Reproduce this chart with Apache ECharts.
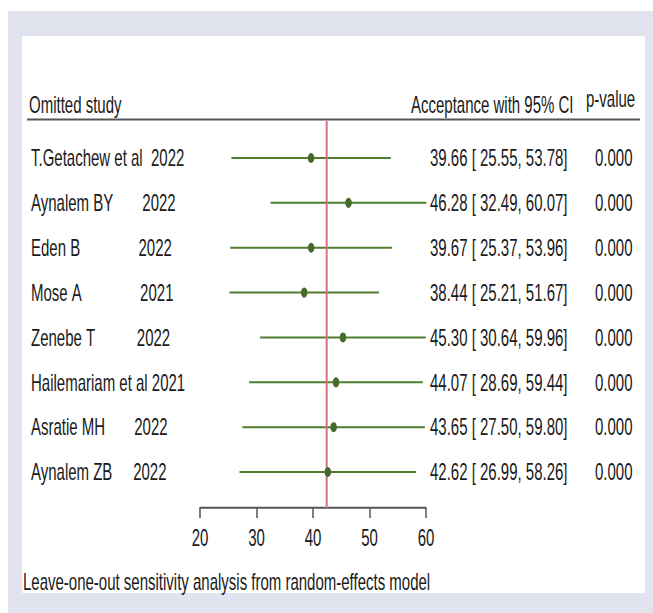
<!DOCTYPE html>
<html>
<head>
<meta charset="utf-8">
<script src="https://cdn.jsdelivr.net/npm/echarts@6/dist/echarts.min.js"></script>
<style>
  html, body { margin: 0; padding: 0; background: #fff; width: 653px; height: 613px; overflow: hidden; }
  #wrap { position: relative; width: 653px; height: 613px; overflow: visible; }
  /* the reference is a vertically stretched Stata graph, so the chart is stretched the same way */
  #main { position: absolute; left: 0; top: 0; width: 653px; transform-origin: 0 0; }
</style>
</head>
<body>
<div id="wrap"><div id="main"></div></div>
<script>
  // data
  const studies = [
    'T.Getachew et al  2022',
    'Aynalem BY       2022',
    'Eden B              2022',
    'Mose A              2021',
    'Zenebe T          2022',
    'Hailemariam et al 2021',
    'Asratie MH       2022',
    'Aynalem ZB     2022'
  ]
  const estimates = [39.66, 46.28, 39.67, 38.44, 45.30, 44.07, 43.65, 42.62]
  const lower = [25.55, 32.49, 25.37, 25.21, 30.64, 28.69, 27.50, 26.99]
  const upper = [53.78, 60.07, 53.96, 51.67, 59.96, 59.44, 59.80, 58.26]
  const pValues = ['0.000', '0.000', '0.000', '0.000', '0.000', '0.000', '0.000', '0.000']
  const pooled = 42.42 // red reference line
  const xMin = 20, xMax = 60, xStep = 10

  const K = 1.56 // vertical stretch
  const W = 653, H = 613 / K
  const FS = 15
  const FONT = '"Liberation Sans", Arial, sans-serif'
  const TXT = '#1b1b1b'

  const dom = document.getElementById('main')
  dom.style.height = H + 'px'
  dom.style.transform = 'scaleY(' + K + ')'

  const ciText = estimates.map((e, i) => e.toFixed(2) + ' [ ' + lower[i].toFixed(2) + ', ' + upper[i].toFixed(2) + ']')
  const nbsp = s => s.replace(/ /g, '\u00a0')

  const chart = echarts.init(dom, null, { renderer: 'svg' })

  const labelAxis = (data, position, margin) => ({
    type: 'category',
    gridIndex: 1,
    position: position,
    inverse: true,
    data: data,
    axisLine: { show: false },
    axisTick: { show: false },
    splitLine: { show: false },
    axisLabel: {
      align: 'left',
      margin: margin,
      fontSize: FS,
      fontFamily: FONT,
      color: TXT,
      formatter: v => nbsp(v)
    }
  })

  const text = (str, x, y) => ({
    type: 'text', silent: true, x: x, y: y / K,
    style: { text: str, fontSize: FS, fontFamily: FONT, fill: TXT, verticalAlign: 'middle' }
  })

  const option = {
    animation: false,
    graphic: [
      { type: 'rect', silent: true, shape: { x: 8, y: 11 / K, width: W - 8, height: H - 11 / K }, style: { fill: '#e1e4ef' } },
      { type: 'rect', silent: true, shape: { x: 22, y: 36 / K, width: 623, height: (593 - 36) / K }, style: { fill: '#ffffff' } },
      { type: 'line', silent: true, shape: { x1: 27, y1: 119.5 / K, x2: 640, y2: 119.5 / K }, style: { stroke: '#555555', lineWidth: 2 / K } },
      text('Omitted study', 29, 104.5),
      text('Acceptance with 95% CI', 411, 104.5),
      text('p-value', 586, 99),
      text('Leave-one-out sensitivity analysis from random-effects model', 23, 582)
    ],
    grid: [
      // plot area: from the header rule down to the axis line
      { left: 200, right: W - 426, top: 121 / K, bottom: H - 508 / K },
      // rows: 8 bands of 44.86px centred on 158 ... 472
      { left: 200, right: W - 426, top: (158 - 22.43) / K, height: 8 * 44.86 / K }
    ],
    xAxis: [
      {
        type: 'value', gridIndex: 0, min: xMin, max: xMax, interval: xStep,
        axisLine: { show: true, lineStyle: { color: '#555555', width: 2 / K } },
        axisTick: { show: true, length: 10 / K, lineStyle: { color: '#555555', width: 1.5 } },
        splitLine: { show: false },
        axisLabel: { fontSize: FS, fontFamily: FONT, color: TXT, margin: 11.5 }
      },
      { type: 'value', gridIndex: 1, min: xMin, max: xMax, show: false }
    ],
    yAxis: [
      { type: 'value', gridIndex: 0, min: 0, max: 1, show: false },
      labelAxis(studies, 'left', 200 - 31),
      labelAxis(ciText, 'right', 430 - 426),
      labelAxis(pValues, 'right', 595 - 426)
    ],
    series: [
      {
        type: 'custom',
        xAxisIndex: 1, yAxisIndex: 1,
        z: 2,
        encode: { x: [0, 1], y: 2 },
        data: studies.map((s, i) => [lower[i], upper[i], i]),
        renderItem: (params, api) => {
          const a = api.coord([api.value(0), api.value(2)])
          const b = api.coord([api.value(1), api.value(2)])
          return {
            type: 'line',
            shape: { x1: a[0], y1: a[1], x2: b[0], y2: b[1] },
            style: { stroke: '#4f7d2e', lineWidth: 2 / K }
          }
        }
      },
      {
        type: 'line',
        xAxisIndex: 0, yAxisIndex: 0,
        z: 3,
        data: [[pooled, 0], [pooled, 1]],
        symbol: 'none',
        lineStyle: { color: '#d8707e', width: 2 }
      },
      {
        type: 'scatter',
        xAxisIndex: 1, yAxisIndex: 1,
        z: 4,
        data: estimates.map((e, i) => [e, i]),
        symbol: 'circle',
        symbolSize: [6.5, 10 / K],
        itemStyle: { color: '#466a29', opacity: 1 }
      }
    ]
  }
  chart.setOption(option)
</script>
</body>
</html>
